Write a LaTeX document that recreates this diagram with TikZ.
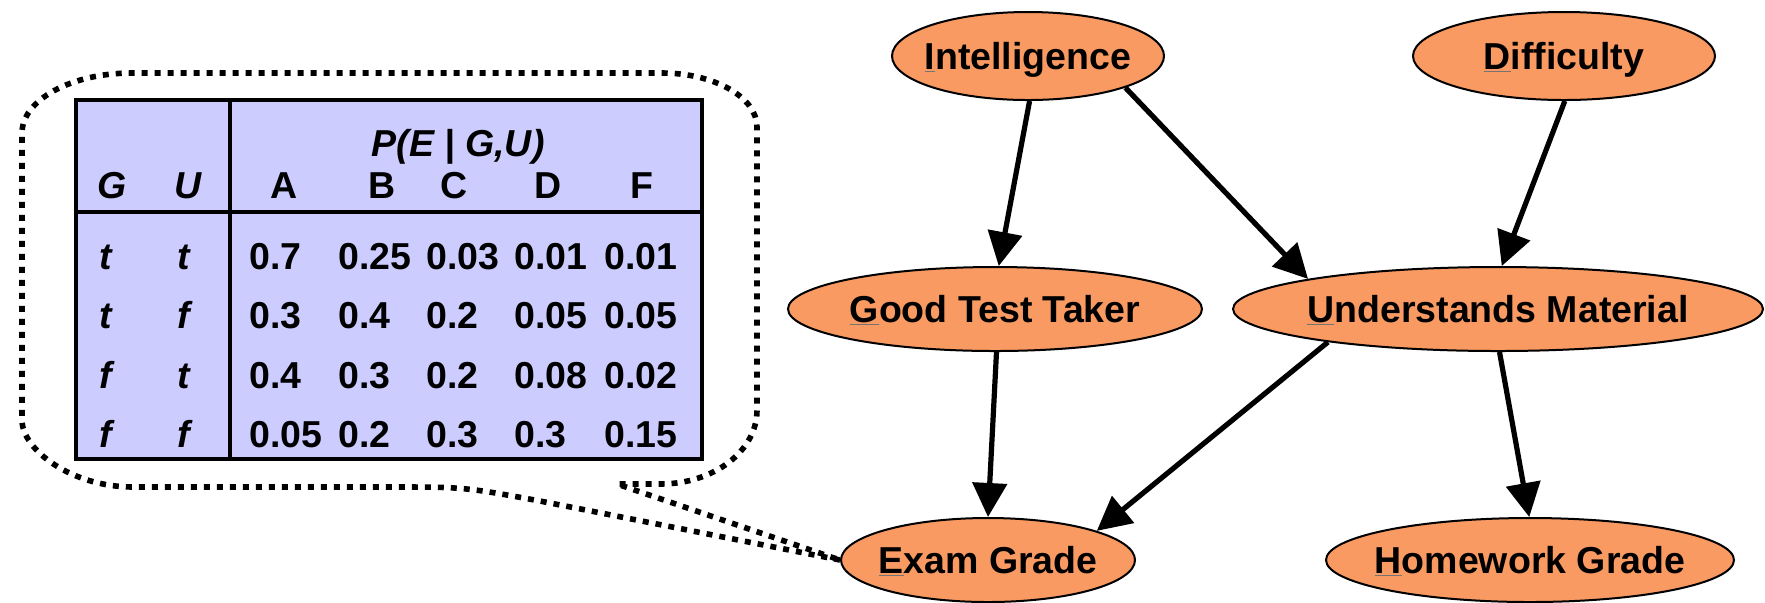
\documentclass[tikz,border=0pt]{standalone}
\usepackage{fontspec}
\setmainfont{Liberation Sans}
\usetikzlibrary{shapes.geometric,arrows.meta}
\definecolor{nodefill}{RGB}{248,154,98}
\definecolor{cptfill}{RGB}{204,204,255}
% thin underline under a mnemonic letter, and a zero-width label box
\newcommand\mnem[1]{\leavevmode\setbox0\hbox{#1}%
  \rlap{\color{black!55}\rule[-1.2pt]{\wd0}{0.6pt}}\box0}
\newcommand\lbl[1]{\makebox[0pt][c]{#1}}
\begin{document}
\begin{tikzpicture}[x=0.5pt,y=-0.5pt,
  bigfont/.style={font=\bfseries\fontsize{18.75}{22}\selectfont},
  var/.style={ellipse,draw=black,line width=1pt,fill=nodefill,inner sep=0pt,
    text height=13.4pt,text depth=0pt,bigfont},
  edge/.style={line width=2.6pt,-{Triangle[length=17pt,width=17pt]}},
  callout/.style={line width=2.8pt,dash pattern=on 3pt off 3.5pt},
  rule/.style={line width=2.2pt},
  cell/.style={bigfont,inner sep=0pt,anchor=base west},
  hdr/.style={bigfont,inner sep=0pt,anchor=base},
  ital/.style={font=\bfseries\itshape\fontsize{18.75}{22}\selectfont,inner sep=0pt,anchor=base}]
\useasboundingbox (0,0) rectangle (1765,602);

% network variables
\node[var,minimum width=136pt,minimum height=44pt] (int) at (1028,56) {\lbl{\mnem{I}ntelligence}};
\node[var,minimum width=151pt,minimum height=44pt] (dif) at (1564,56) {\lbl{\mnem{D}ifficulty}};
\node[var,minimum width=207pt,minimum height=42pt] (gtt) at (995,309) {\lbl{\mnem{G}ood Test Taker}};
\node[var,minimum width=265pt,minimum height=42pt] (und) at (1498,309) {\lbl{\mnem{U}nderstands Material}};
\node[var,minimum width=147pt,minimum height=42pt] (exam) at (988,560) {\lbl{\mnem{E}xam Grade}};
\node[var,minimum width=204pt,minimum height=42pt] (hw) at (1530,560) {\lbl{\mnem{H}omework Grade}};

% dependencies
\draw[edge] (int.-88) -- (gtt.85);
\draw[edge] (int.-18) -- (und.171);
\draw[edge] (dif.-89) -- (und.85);
\draw[edge] (gtt.-88) -- (exam.90);
\draw[edge] (und.191) -- (exam.15);
\draw[edge] (und.-88) -- (hw.91);

% dotted callout pointing at the exam grade
\draw[callout] (exam.west) -- (540,501) .. controls (464,487) .. (390,487)
  -- (133,487) .. controls (72,487) and (22,450) .. (22,420)
  -- (22,133) .. controls (22,100) and (71,73) .. (132,73)
  -- (662,73) .. controls (714,73) and (757,97) .. (757,127)
  -- (757,410) .. controls (757,451) and (714,484) .. (660,484)
  -- (617,484) -- (exam.west);

% conditional probability table
\fill[cptfill] (76,100) rectangle (702,459);
\draw[rule] (76,100) rectangle (702,459);
\draw[rule] (230,100) -- (230,459);
\draw[rule] (76,212) -- (702,212);

\node[ital] (title) at (458,156) {P(E | G,U)};
\node[ital] (hG) at (112,198) {G};
\node[ital] (hU) at (188,198) {U};
\node[hdr] (hA) at (284,198) {A};
\node[hdr] (hB) at (382,198) {B};
\node[hdr] (hC) at (454,198) {C};
\node[hdr] (hD) at (548,198) {D};
\node[hdr] (hF) at (642,198) {F};

\foreach \yy/\g/\u/\pa/\pb/\pc/\pd/\pf [count=\i] in {
    269/t/t/0.7/0.25/0.03/0.01/0.01,
    328/t/f/0.3/0.4/0.2/0.05/0.05,
    388/f/t/0.4/0.3/0.2/0.08/0.02,
    447/f/f/0.05/0.2/0.3/0.3/0.15}{
  \node[ital] (g\i) at (106,\yy) {\g};
  \node[ital] (u\i) at (184,\yy) {\u};
  \node[cell] (a\i) at (249,\yy) {\pa};
  \node[cell] (b\i) at (338,\yy) {\pb};
  \node[cell] (c\i) at (426,\yy) {\pc};
  \node[cell] (d\i) at (514,\yy) {\pd};
  \node[cell] (f\i) at (604,\yy) {\pf};
}
\end{tikzpicture}
\end{document}
